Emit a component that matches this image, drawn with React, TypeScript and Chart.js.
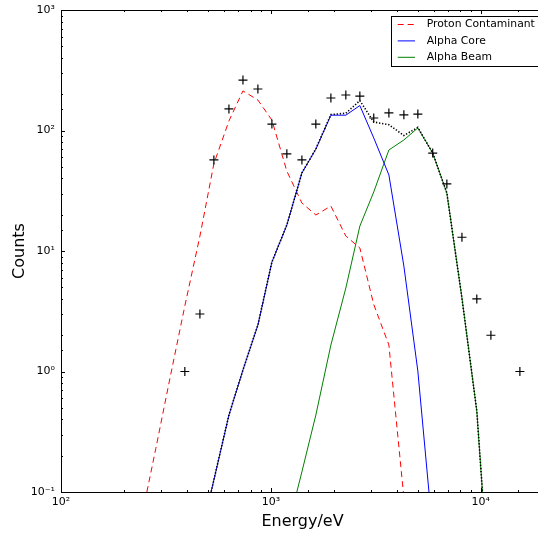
import React, { useEffect, useRef } from 'react';
import { Chart, registerables } from 'chart.js';

Chart.register(...registerables);

// Energy bin centres (eV), read from the positions of the measured points
const energyBins = [
  240, 283, 330, 389, 459, 535, 631, 736, 867, 1011, 1191, 1405, 1637, 1931,
  2275, 2653, 3090, 3648, 4300, 5012, 5900, 6890, 8130, 9570, 11170, 13150, 15350,
];

// Measured counts (+ markers); null where no point is shown
const observedCounts = [
  null, null, null, 1, 3, 57, 151, 262, 221, 113, 64, 57, 113, 186,
  197, 193, 127, 140, 135, 137, 65, 36, 13, 4, 2, null, 1,
];

// Model components
const protonContaminant = [
  0.057, 0.23, 0.87, 3.5, 13.3, 53, 120, 213, 179, 122, 46, 25, 19.9, 23.6,
  13.3, 10.6, 3.6, 1.66, 0.09, null, null, null, null, null, null, null, null,
];
const alphaCore = [
  null, null, null, null, 0.04, 0.126, 0.435, 1.03, 2.43, 8.1, 16.4, 44.4, 70, 134,
  134, 161, 86.7, 42.8, 7.5, 1.01, 0.046, null, null, null, null, null, null,
];
const alphaBeam = [
  null, null, null, null, null, null, null, null, null, null, 0.047, 0.147, 0.435, 1.66,
  4.93, 16.1, 30.9, 68.9, 83.4, 105, 65, 30.3, 4.07, 0.47, 0.01, null, null,
];
const alphaTotal = [
  null, null, null, null, 0.04, 0.126, 0.435, 1.03, 2.43, 8.1, 16.45, 44.5, 70.4, 135.7,
  139, 177, 117.6, 111.7, 90.9, 106, 65, 30.3, 4.07, 0.47, 0.01, null, null,
];

const seriesLabels = ['Proton Contaminant', 'Alpha Core', 'Alpha Beam'];
const xRange = [100, 20000];
const yRange = [0.1, 1000];
const xTitle = 'Energy/eV';
const yTitle = 'Counts';
const superscriptDigits: Record<string, string> = {
  '-': '⁻', '0': '⁰', '1': '¹', '2': '²', '3': '³', '4': '⁴', '5': '⁵', '6': '⁶', '7': '⁷', '8': '⁸', '9': '⁹',
};

const FONT = "'DejaVu Sans', sans-serif";

function toPoints(values: (number | null)[]) {
  const pts: { x: number; y: number }[] = [];
  values.forEach((v, i) => {
    if (v !== null && v !== undefined) pts.push({ x: energyBins[i], y: v });
  });
  return pts;
}

function isPow10(v: number) {
  const l = Math.log10(v);
  return Math.abs(l - Math.round(l)) < 1e-6;
}

function powLabel(v: number) {
  if (!isPow10(v)) return '';
  const e = String(Math.round(Math.log10(v)));
  return '10' + e.split('').map((c) => superscriptDigits[c]).join('');
}

const frameAndTicks = {
  id: 'frameAndTicks',
  afterDraw(chart: any) {
    const { ctx, chartArea, scales } = chart;
    const { left, right, top, bottom } = chartArea;
    ctx.save();
    ctx.strokeStyle = '#000';
    ctx.lineWidth = 1;
    ctx.setLineDash([]);
    const line = (x1: number, y1: number, x2: number, y2: number) => {
      ctx.beginPath();
      ctx.moveTo(x1, y1);
      ctx.lineTo(x2, y2);
      ctx.stroke();
    };
    scales.x.ticks.forEach((t: any) => {
      const px = Math.round(scales.x.getPixelForValue(t.value)) + 0.5;
      const len = isPow10(t.value) ? 4 : 2;
      line(px, bottom, px, bottom - len);
      line(px, top, px, top + len);
    });
    scales.y.ticks.forEach((t: any) => {
      const py = Math.round(scales.y.getPixelForValue(t.value)) + 0.5;
      const len = isPow10(t.value) ? 4 : 2;
      line(left, py, left + len, py);
      line(right, py, right - len, py);
    });
    ctx.strokeRect(Math.round(left) + 0.5, Math.round(top) + 0.5, right - left, bottom - top);
    ctx.restore();
  },
};

const boxLegend = {
  id: 'boxLegend',
  afterDraw(chart: any) {
    const { ctx } = chart;
    const items = chart.data.datasets.filter((d: any) => seriesLabels.includes(d.label));
    items.sort((a: any, b: any) => seriesLabels.indexOf(a.label) - seriesLabels.indexOf(b.label));
    ctx.save();
    const bx = 391.5, by = 16.5, bw = 152, bh = 50;
    ctx.fillStyle = '#fff';
    ctx.fillRect(bx, by, bw, bh);
    ctx.strokeStyle = '#000';
    ctx.lineWidth = 1;
    ctx.setLineDash([]);
    ctx.strokeRect(bx, by, bw, bh);
    items.forEach((d: any, i: number) => {
      const cy = 24.5 + i * 16.4;
      ctx.beginPath();
      ctx.strokeStyle = d.borderColor;
      ctx.lineWidth = d.borderWidth;
      ctx.setLineDash(d.borderDash || []);
      ctx.moveTo(397.7, cy);
      ctx.lineTo(415, cy);
      ctx.stroke();
      ctx.setLineDash([]);
      ctx.fillStyle = '#000';
      ctx.font = `10.8px ${FONT}`;
      ctx.textBaseline = 'middle';
      ctx.textAlign = 'left';
      ctx.fillText(d.label, 426.7, cy);
    });
    ctx.restore();
  },
};

export default function App() {
  const canvasRef = useRef<HTMLCanvasElement | null>(null);

  useEffect(() => {
    if (!canvasRef.current) return;
    const chart = new Chart(canvasRef.current, {
      type: 'line',
      data: {
        datasets: [
          {
            label: 'Alpha Total',
            data: toPoints(alphaTotal),
            borderColor: '#000',
            borderWidth: 1.6,
            borderDash: [1.3, 1.8],
            pointRadius: 0,
            fill: false,
          },
          {
            label: 'Observed',
            data: toPoints(observedCounts),
            showLine: false,
            pointStyle: 'cross',
            pointRadius: 4.5,
            pointBorderWidth: 1.2,
            borderColor: '#000',
            backgroundColor: '#000',
          },
          {
            label: seriesLabels[1],
            data: toPoints(alphaCore),
            borderColor: '#0000ff',
            borderWidth: 1,
            pointRadius: 0,
            fill: false,
          },
          {
            label: seriesLabels[2],
            data: toPoints(alphaBeam),
            borderColor: '#008000',
            borderWidth: 1,
            pointRadius: 0,
            fill: false,
          },
          {
            label: seriesLabels[0],
            data: toPoints(protonContaminant),
            borderColor: '#ff0000',
            borderWidth: 1,
            borderDash: [6, 4],
            pointRadius: 0,
            fill: false,
          },
        ] as any,
      },
      options: {
        animation: false,
        responsive: true,
        maintainAspectRatio: false,
        layout: { padding: { left: 0, top: 10, right: 16, bottom: 0 } },
        plugins: {
          legend: { display: false },
          tooltip: { enabled: false },
        },
        elements: { line: { tension: 0 } },
        scales: {
          x: {
            type: 'logarithmic',
            min: xRange[0],
            max: xRange[1],
            grid: { display: false, drawTicks: false },
            border: { display: false },
            ticks: {
              autoSkip: false,
              maxRotation: 0,
              padding: 4,
              color: '#000',
              font: { family: FONT, size: 11 },
              callback: (v: any) => powLabel(Number(v)),
            },
            title: {
              display: true,
              text: xTitle,
              color: '#000',
              font: { family: FONT, size: 16 },
              padding: { top: 0, bottom: 3 },
            },
            afterFit: (s: any) => {
              s.height = 42;
              s.paddingLeft = 0;
              s.paddingRight = 0;
            },
          },
          y: {
            type: 'logarithmic',
            min: yRange[0],
            max: yRange[1],
            grid: { display: false, drawTicks: false },
            border: { display: false },
            ticks: {
              autoSkip: false,
              padding: 6,
              color: '#000',
              font: { family: FONT, size: 11 },
              callback: (v: any) => powLabel(Number(v)),
            },
            title: {
              display: true,
              text: yTitle,
              color: '#000',
              font: { family: FONT, size: 16 },
              padding: { top: 10, bottom: 0 },
            },
            afterFit: (s: any) => {
              s.width = 61;
              s.paddingTop = 0;
              s.paddingBottom = 0;
            },
          },
        },
      } as any,
      plugins: [frameAndTicks, boxLegend],
    });
    return () => chart.destroy();
  }, []);

  return (
    <div
      style={{
        position: 'fixed',
        left: 0,
        top: 0,
        width: 538,
        height: 534,
        overflow: 'hidden',
        background: '#fff',
      }}
    >
      <div style={{ position: 'relative', width: 560, height: 534 }}>
        <canvas ref={canvasRef} />
      </div>
    </div>
  );
}
